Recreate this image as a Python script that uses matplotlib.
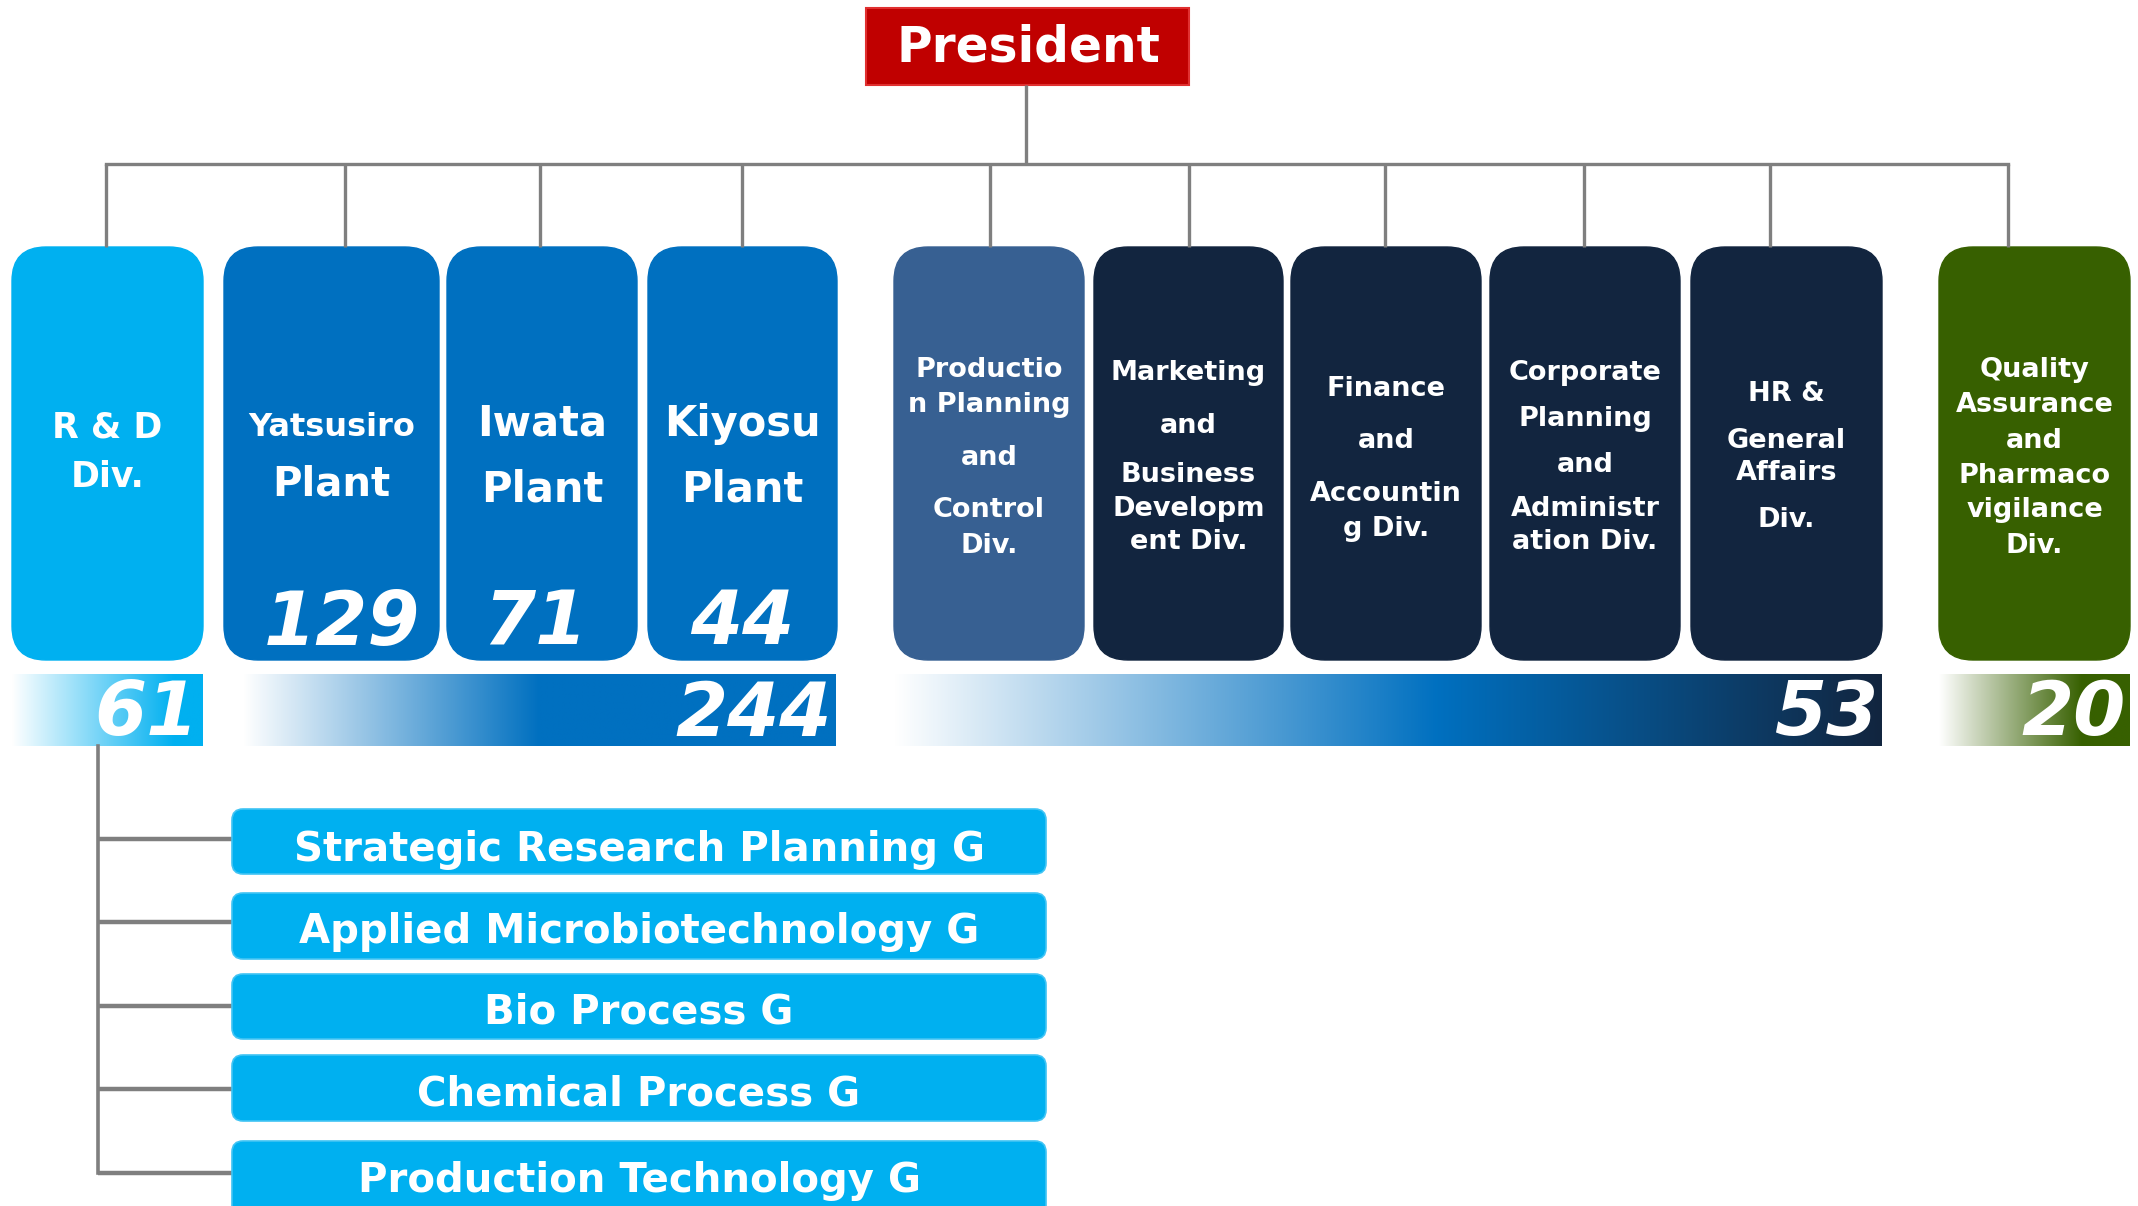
import numpy as np
import matplotlib
matplotlib.use("Agg")
import matplotlib.pyplot as plt
from matplotlib.patches import FancyBboxPatch, Rectangle
from matplotlib.colors import to_rgb

# ---------------- data ----------------
president = "President"
div_labels = [
    ["R & D", "Div."],
    ["Yatsusiro", "Plant"],
    ["Iwata", "Plant"],
    ["Kiyosu", "Plant"],
    ["Productio", "n Planning", "and", "Control", "Div."],
    ["Marketing", "and", "Business", "Developm", "ent Div."],
    ["Finance", "and", "Accountin", "g Div."],
    ["Corporate", "Planning", "and", "Administr", "ation Div."],
    ["HR &", "General", "Affairs", "Div."],
    ["Quality", "Assurance", "and", "Pharmaco", "vigilance", "Div."],
]
plant_counts = [129, 71, 44]
group_totals = [61, 244, 53, 20]
rd_groups = ["Strategic Research Planning G", "Applied Microbiotechnology G",
             "Bio Process G", "Chemical Process G", "Production Technology G"]

# ---------------- layout / style ----------------
W, H = 2138, 1206
fig = plt.figure(figsize=(W / 100, H / 100), dpi=100)
ax = fig.add_axes([0, 0, 1, 1])
ax.set_axis_off()

GRAY = "#7F7F7F"
LIGHT = "#00B0F0"
BLUE = "#0070C0"
STEEL = "#376092"
NAVY = "#12253F"
GREEN = "#376000"
RED = "#C00000"

div_x = [(12, 203), (224, 439), (447, 637), (648, 837), (894, 1084),
         (1094, 1283), (1291, 1481), (1490, 1680), (1691, 1882), (1939, 2130)]
div_colors = [LIGHT, BLUE, BLUE, BLUE, STEEL, NAVY, NAVY, NAVY, NAVY, GREEN]
drop_x = [106, 345, 540, 742, 990, 1189, 1385, 1584, 1770, 2008]
box_top, box_bot = 247, 660
line_y = [[424, 474], [424, 481], [421, 487], [421, 487],
          [367, 402, 455, 507, 543], [370, 423, 472, 506, 539],
          [386, 438, 491, 526], [370, 416, 462, 506, 539],
          [391, 438, 470, 517], [367, 402, 438, 473, 507, 543]]
line_fs = [[25, 25], [23, 29], [30, 30], [30, 30]] + [[19.5] * 6] * 6
dy = 3

# connectors
lw = 2.4
ax.plot([1026, 1026], [85, 164], color=GRAY, lw=lw, solid_capstyle="butt")
ax.plot([drop_x[0], drop_x[-1]], [164, 164], color=GRAY, lw=lw, solid_capstyle="projecting")
for x in drop_x:
    ax.plot([x, x], [164, box_top], color=GRAY, lw=lw, solid_capstyle="butt")

# president
ax.add_patch(Rectangle((866, 8), 323, 77, facecolor=RED, edgecolor="#E03030", lw=1.5))
ax.text(1028, 48, president, color="white", fontsize=35, fontweight="bold",
        ha="center", va="center", family="DejaVu Sans")

# division boxes
for i, ((x0, x1), col) in enumerate(zip(div_x, div_colors)):
    ax.add_patch(FancyBboxPatch((x0, box_top), x1 - x0, box_bot - box_top,
                                boxstyle="round,pad=0,rounding_size=34",
                                facecolor=col, edgecolor=col, lw=1))
    cx = (x0 + x1) / 2
    for j, txt in enumerate(div_labels[i]):
        ax.text(cx, line_y[i][j] + dy, txt, color="white", fontsize=line_fs[i][j],
                fontweight="bold", ha="center", va="center", family="DejaVu Sans")

# plant head counts
num_dx = [10, -7, 0]
for k, n in enumerate(plant_counts):
    x0, x1 = div_x[1 + k]
    ax.text((x0 + x1) / 2 + num_dx[k], 624, str(n), color="white", fontsize=54,
            fontweight="bold", style="italic", ha="center", va="center",
            family="DejaVu Sans")


def gradient(x0, x1, y0, y1, stops):
    n = 400
    t = np.linspace(0, 1, n)
    pos = [s[0] for s in stops]
    cols = np.array([to_rgb(s[1]) for s in stops])
    img = np.stack([np.interp(t, pos, cols[:, c]) for c in range(3)], axis=-1)
    ax.imshow(img[None, :, :], extent=(x0, x1, y1, y0), aspect="auto",
              interpolation="bilinear", zorder=1)


bar_y0, bar_y1 = 674, 746
bars = [
    (12, 203, [(0, "#FFFFFF"), (0.85, LIGHT), (1, LIGHT)]),
    (243, 836, [(0, "#FFFFFF"), (0.5, BLUE), (1, BLUE)]),
    (894, 1882, [(0, "#FFFFFF"), (0.55, BLUE), (1, NAVY)]),
    (1939, 2130, [(0, "#FFFFFF"), (0.75, GREEN), (1, GREEN)]),
]
for (x0, x1, stops), total in zip(bars, group_totals):
    gradient(x0, x1, bar_y0, bar_y1, stops)
    ax.text(x1 - 4, 715, str(total), color="white", fontsize=54, fontweight="bold",
            style="italic", ha="right", va="center", family="DejaVu Sans", zorder=3)

# R&D sub-groups
sub_y = [(809, 874), (893, 959), (974, 1039), (1055, 1121), (1141, 1220)]
branch_y = [839, 922, 1006, 1089, 1173]
text_y = [850, 932, 1013, 1095, 1181]
ax.plot([98, 98], [746, branch_y[-1]], color=GRAY, lw=2.6, solid_capstyle="projecting")
for (y0, y1), by, ty, name in zip(sub_y, branch_y, text_y, rd_groups):
    ax.plot([98, 232], [by, by], color=GRAY, lw=3.2, solid_capstyle="butt")
    ax.add_patch(FancyBboxPatch((232, y0), 1046 - 232, y1 - y0,
                                boxstyle="round,pad=0,rounding_size=11",
                                facecolor=LIGHT, edgecolor="#40C4F4", lw=1.2, zorder=2))
    ax.text(639, ty, name, color="white", fontsize=29, fontweight="bold",
            ha="center", va="center", family="DejaVu Sans", zorder=3)

ax.set_xlim(0, W)
ax.set_ylim(H, 0)
fig.savefig("out.png", dpi=100)
